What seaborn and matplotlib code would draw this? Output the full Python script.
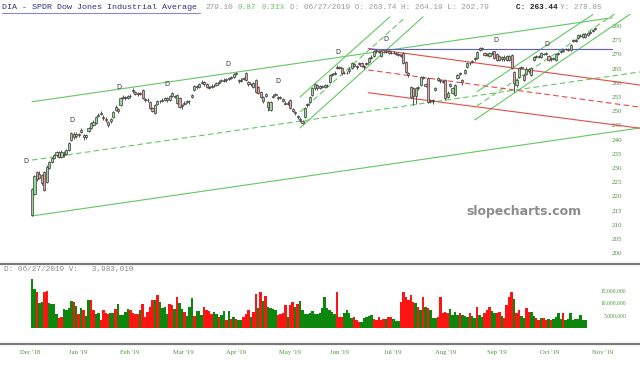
import numpy as np
import pandas as pd
import matplotlib
matplotlib.use("Agg")
import matplotlib.pyplot as plt
import seaborn as sns

# ---------------- data ----------------
opens = [213.5,221.0,228.5,226.5,227.5,228.7,225.2,229.9,232.2,233.5,
234.5,235.5,234.0,235.0,234.8,236.3,239.9,242.0,241.2,242.0,
242.8,241.5,240.8,243.0,244.0,245.2,245.8,248.4,249.0,248.0,
247.3,246.3,246.5,248.0,250.4,250.6,252.2,254.7,255.0,254.6,
255.2,257.0,256.6,256.0,256.4,257.5,254.2,253.8,253.3,251.0,
249.4,252.6,253.4,253.6,254.0,254.6,254.0,255.4,255.5,252.9,
254.6,251.8,252.4,253.2,253.6,255.0,257.5,258.8,258.6,260.0,
260.2,259.4,258.6,258.4,259.0,259.2,260.0,260.6,261.0,260.8,
261.4,261.6,262.0,263.0,261.0,260.6,261.2,263.4,260.2,259.6,
258.5,261.0,258.6,256.9,253.5,255.5,253.3,250.4,255.0,255.6,
255.0,254.6,254.2,253.0,252.6,253.9,250.6,249.8,248.4,247.4,
246.4,248.0,252.0,253.3,255.7,258.0,259.2,258.2,258.8,258.6,
259.0,260.4,262.6,263.2,265.1,265.4,265.1,263.4,263.6,264.0,
265.1,266.6,265.8,266.5,267.0,265.8,266.5,267.4,268.8,269.4,
271.0,271.2,269.5,270.9,270.8,271.0,270.6,270.4,270.5,270.0,
269.8,270.4,267.4,263.4,255.1,258.0,255.5,258.0,259.2,262.0,
259.4,261.7,253.6,253.8,257.5,261.0,260.8,260.4,261.0,255.0,
259.0,256.5,255.7,261.6,263.0,260.8,263.5,265.7,266.8,267.2,
268.2,268.7,271.5,272.2,270.4,269.8,269.5,270.3,271.0,270.0,
268.0,269.0,268.2,269.5,268.0,269.8,263.9,259.2,262.1,265.2,
262.7,263.0,264.8,262.7,268.0,269.2,269.4,269.2,270.2,270.2,
269.5,268.2,268.5,268.0,270.2,270.8,271.2,271.8,272.0,271.5,
274.8,275.0,275.7,276.6,276.2,276.0,276.8,277.6,278.2,278.8]

closes = [222.5,227.0,226.0,228.0,224.7,222.3,230.5,232.2,233.5,234.6,
235.5,234.0,235.7,234.5,236.3,238.8,242.3,241.0,242.0,241.5,
243.4,241.0,241.5,244.0,245.8,246.3,248.0,248.8,249.5,247.5,
247.0,245.0,247.2,249.8,251.6,250.0,254.5,255.1,254.5,255.3,
255.5,257.5,256.0,256.4,256.0,254.5,253.8,254.0,251.0,250.2,
252.2,253.4,253.6,254.0,254.6,253.8,255.2,256.3,255.0,255.7,
251.6,252.2,253.0,253.5,253.4,255.7,258.9,258.4,259.4,260.4,
259.5,258.6,258.3,259.0,258.8,259.8,260.4,261.0,260.6,261.4,
261.7,262.0,263.0,263.4,260.5,261.0,261.5,261.0,259.6,259.4,
260.0,256.9,256.3,255.1,255.0,256.0,251.6,253.3,255.5,256.0,
254.5,255.0,253.6,252.5,253.0,251.0,250.2,249.3,248.0,246.9,
246.0,251.0,252.5,255.1,258.2,259.6,258.0,258.8,258.6,259.2,
258.8,262.7,263.0,263.6,265.7,265.2,263.3,263.6,263.4,265.0,
266.9,266.0,265.5,267.0,266.0,265.5,267.0,268.7,269.2,271.2,
271.4,270.8,271.0,270.7,271.2,270.5,270.4,270.6,270.2,269.8,
269.5,266.9,263.9,262.6,258.6,255.5,258.0,258.5,262.1,261.8,
259.0,253.3,253.8,253.5,258.0,261.5,260.5,260.6,254.5,256.5,
259.5,258.0,259.2,262.7,263.3,260.4,264.5,266.9,267.0,267.5,
268.6,270.8,272.3,272.0,269.8,270.2,270.5,270.6,268.6,268.0,
269.5,268.2,269.2,268.0,269.5,265.1,259.8,261.0,265.1,265.5,
261.0,265.0,264.0,265.1,269.0,269.5,269.2,270.4,270.0,270.5,
268.0,268.5,268.6,270.0,270.5,271.0,271.6,272.0,271.6,273.3,
275.1,274.8,276.8,276.4,277.0,277.0,277.5,278.0,278.6,279.2]

highs = [223.0,227.5,229.0,228.8,228.0,229.0,231.0,232.6,234.0,235.0,
236.0,236.0,236.2,235.8,236.8,239.2,242.8,242.6,242.5,242.4,
243.9,241.8,242.0,244.5,246.2,246.8,248.4,249.3,250.0,248.5,
247.8,246.6,247.6,250.2,252.0,251.0,254.9,255.6,255.5,255.7,
256.0,258.0,257.0,256.8,256.8,257.8,254.6,254.5,253.6,251.4,
252.6,253.8,254.0,254.5,255.0,255.0,255.6,256.8,255.8,256.0,
255.0,252.6,253.4,254.0,254.0,256.2,259.3,259.2,259.8,260.9,
260.5,259.8,259.0,259.4,259.4,260.2,260.9,261.4,261.5,261.8,
262.1,262.4,263.4,263.8,261.4,261.5,262.0,263.8,260.6,260.0,
260.4,261.3,258.9,257.2,255.4,256.5,253.6,253.6,256.0,256.4,
255.4,255.5,254.6,253.4,253.5,254.2,251.0,250.2,248.8,247.8,
246.8,251.4,253.0,255.5,258.6,260.0,259.6,259.2,259.2,259.6,
259.4,263.0,263.4,264.0,266.1,265.8,265.4,264.0,264.0,265.4,
267.3,267.0,266.2,267.4,267.3,266.2,267.4,269.1,269.6,271.6,
271.8,271.6,271.4,271.3,271.6,271.4,271.0,271.0,270.8,270.4,
270.2,270.7,267.7,263.8,259.0,258.4,258.4,259.0,262.5,262.5,
259.8,262.0,254.2,254.2,258.5,262.0,261.2,261.0,261.3,257.0,
260.0,258.4,259.6,263.1,263.7,261.2,265.0,267.3,267.4,267.9,
269.0,271.2,272.7,272.6,270.8,270.6,270.9,271.0,271.3,270.3,
269.9,269.4,269.6,269.9,269.9,270.1,264.2,261.4,265.5,266.0,
263.1,265.4,265.2,265.5,269.4,269.9,269.8,270.8,270.6,270.9,
269.8,268.9,269.0,270.4,270.9,271.4,272.0,272.4,272.3,273.7,
275.5,275.4,277.2,277.0,277.4,277.4,277.9,278.4,279.0,279.6]

lows = [213.0,220.5,225.5,226.0,224.0,221.8,224.8,229.5,231.8,233.0,
234.0,233.5,233.6,234.0,234.4,236.0,239.5,240.2,240.5,240.8,
242.3,240.0,240.2,242.6,243.8,244.8,245.5,247.9,248.5,246.8,
246.2,244.5,246.0,247.6,250.0,249.4,251.8,254.2,254.0,254.2,
254.8,256.5,255.6,255.5,255.6,254.2,253.2,253.2,250.6,249.6,
249.0,252.2,253.0,253.2,253.6,253.2,253.6,255.0,254.5,252.5,
251.0,250.8,252.0,252.8,252.6,254.6,257.1,257.9,258.2,259.6,
259.0,258.2,257.8,258.0,258.4,258.8,259.6,260.2,260.2,260.4,
261.0,261.2,261.7,262.6,260.0,260.2,260.8,260.7,259.0,258.8,
258.0,256.5,255.9,254.6,253.0,255.0,250.0,250.0,254.5,255.2,
254.0,254.2,253.2,252.0,252.2,250.6,249.7,248.7,247.4,246.3,
245.4,247.6,251.6,253.0,255.3,257.6,257.5,257.8,258.2,258.2,
258.4,260.0,262.2,262.8,264.7,264.8,262.9,263.0,263.0,263.6,
264.8,265.6,265.0,266.1,265.6,265.0,266.1,267.0,268.4,269.0,
270.6,270.4,269.1,270.3,270.4,270.1,270.0,270.0,269.8,269.4,
269.0,266.5,263.5,262.0,254.5,252.0,252.5,257.4,258.8,261.2,
258.6,252.8,252.8,252.5,257.0,260.6,260.0,259.8,254.0,254.6,
258.6,256.0,255.3,261.2,262.6,259.2,263.0,265.3,266.4,266.8,
267.8,268.4,271.1,271.6,269.4,269.4,269.1,269.9,268.2,267.6,
267.6,267.8,267.8,267.6,267.6,264.7,256.9,258.4,261.7,264.8,
260.5,262.6,263.5,262.3,267.6,268.8,268.8,268.8,269.6,269.8,
267.6,267.8,268.0,267.6,269.8,270.4,270.8,271.4,271.2,271.1,
274.4,274.4,275.3,276.0,275.8,275.6,276.4,277.2,277.8,278.4]

# volume in millions, and up(G)/down(R) flag per bar
volume_m = [19.2,15.5,14.2,9.9,10.2,14.3,14.4,9.9,9.5,9.5,
5.6,3.8,4.2,7.5,7.1,7.8,10.6,10.2,8.5,5.6,
7.9,6.9,4.5,11.1,11.1,6.9,5.6,5.8,3.2,6.9,
5.8,5.6,5.8,5.8,7.3,9.3,4.9,4.9,6.2,7.5,
7.1,5.8,5.6,5.6,7.1,9.5,4.2,6.2,8.2,10.8,
10.8,12.8,10.2,7.9,8.2,5.6,9.3,8.9,7.3,12.2,
9.8,7.5,6.2,4.5,8.2,11.9,4.5,6.6,6.6,4.9,
8.2,6.9,6.6,5.6,6.2,5.6,4.2,4.9,6.6,2.9,
6.6,3.6,4.2,3.6,2.9,3.2,4.2,5.6,6.9,4.2,
6.2,13.5,7.9,14.2,10.6,12.4,8.2,7.9,7.5,6.9,
4.9,5.6,5.8,8.9,4.2,8.9,10.2,8.2,9.5,10.6,
7.1,5.6,5.6,5.8,6.6,5.6,5.6,6.0,
8.0,12.0,7.7,7.0,6.4,5.5,14.3,4.1,4.1,6.0,
7.0,5.7,3.7,4.1,3.0,2.4,2.4,3.7,4.4,4.6,
5.0,3.3,3.0,4.1,3.0,3.5,3.3,4.4,4.4,3.3,
2.8,2.6,10.3,14.3,12.0,11.0,13.0,10.3,9.9,8.3,
7.0,12.3,8.3,8.0,7.0,3.7,3.7,4.4,12.3,6.0,
6.4,5.7,7.3,5.0,6.4,5.0,5.7,5.0,4.6,4.4,
5.7,4.6,3.7,8.1,5.0,4.2,5.7,7.0,8.1,6.6,
6.0,5.7,6.4,4.6,3.7,9.0,12.0,14.0,11.2,5.7,
7.0,4.6,3.7,7.7,6.4,6.4,4.6,3.7,3.0,4.0,
3.7,3.0,3.3,3.0,3.3,4.2,5.7,3.3,5.7,3.0,
3.3,5.7,3.0,3.3,3.3,5.0,3.0,3.0]
volume_dir = list(
    "GGRGGRRGGG" "GRRGGGGRGR" "GRGGRRGGRR" "RRGGRGGGGG" "RRRRGRRRRR"
    "GRGGGGRRGR" "GGRGGGRGGG" "RRRRGGRGGR" "GRGRGGRRRG" "RRGRGRGGGG"
    "RRRRGRRGRG" "GGGGGGGG"
    "GGGGGGRRRG" "GGGRRRGGGG" "GRRRRRGRRG" "GGRRRRRRGR" "GRGRGGGRRR"
    "RRGGGGRGGG" "RGGRGGRRRG" "GRRGRRRRGR" "RGGRRGGRRG" "RRGRGGGGRG"
    "GGGGGGGG")

# month ticks (bar index) and labels
month_pos = [-0.8, 18.7, 39.8, 61.4, 82.9, 104.9, 125.2, 146.7, 168.3, 189.0, 210.6, 232.1]
month_labels = ["Dec '18", "Jan '19", "Feb '19", "Mar '19", "Apr '19", "May '19",
                "Jun '19", "Jul '19", "Aug '19", "Sep '19", "Oct '19", "Nov '19"]
price_ticks = list(range(200, 281, 5))
vol_ticks = [5e6, 10e6, 15e6]
vol_tick_labels = ["5,000,000", "10,000,000", "15,000,000"]

# dividend markers (bar index, price level)
div_pos = [-2.4, 16.1, 35.5, 55.0, 79.6, 99.9, 124.5, 143.8, 188.5, 209.2]
div_price = [232.5, 246.9, 258.6, 259.6, 266.6, 260.6, 270.7, 275.3, 275.1, 273.6]

# drawn trendlines: (x0, x1) bar index, (p0, p1) price
big_upper = ([0, 236], [253.3, 282.9])
big_mid = ([0, 247.2], [232.8, 263.8])
big_lower = ([0, 247.2], [213.1, 244.1])
steep1_lower = ([109, 159], [244.1, 283.2])
steep1_mid = ([109, 152], [249.7, 283.2])
steep1_upper = ([109, 145.5], [255.0, 283.2])
steep2_lower = ([180, 247.2], [246.9, 286.5])
steep2_mid = ([181, 240], [251.9, 286.0])
steep2_upper = ([181, 228], [256.9, 284.0])
red_upper = ([136.7, 247.2], [272.1, 259.2])
red_mid = ([136.7, 247.2], [264.5, 251.4])
red_lower = ([136.7, 247.2], [256.5, 244.0])
blue_level = ([137, 236], [271.9, 271.9])

# ---------------- figure ----------------
sns.set_theme(style="white")
plt.rcParams['font.family'] = ['DejaVu Sans']
W, H = 640, 366
fig = plt.figure(figsize=(W / 100, H / 100), dpi=100)
fig.patch.set_facecolor("white")


def fax(x0, y0, x1, y1):
    return fig.add_axes([x0 / W, 1 - y1 / H, (x1 - x0) / W, (y1 - y0) / H])


ax = fax(0, 14, 640, 262)
axv = fax(0, 264, 640, 344)

N = len(closes)
idx = np.arange(N)
o = np.array(opens); c = np.array(closes); hi = np.array(highs); lo = np.array(lows)
up = c >= o

GREEN_LINE = "#62c862"
RED_LINE = "#e64a4a"

# trendlines (drawn beneath candles)
def tl(seg, color, dashed=False, lw=0.8):
    d = pd.DataFrame({"x": seg[0], "y": seg[1]})
    sns.lineplot(data=d, x="x", y="y", ax=ax, color=color, lw=lw,
                 linestyle=(0, (5, 3)) if dashed else "-", zorder=1)

for seg in (big_upper, big_lower, steep1_lower, steep1_upper, steep2_lower, steep2_upper):
    tl(seg, GREEN_LINE)
for seg in (big_mid, steep1_mid, steep2_mid):
    tl(seg, GREEN_LINE, dashed=True)
tl(red_upper, RED_LINE)
tl(red_lower, RED_LINE)
tl(red_mid, RED_LINE, dashed=True)
tl(blue_level, "#5b5bd6")

# candles
ax.vlines(idx, lo, hi, color="#3c3c3c", lw=0.6, zorder=3)
body = np.maximum(np.abs(c - o), 0.2)
ax.bar(idx, body, bottom=np.minimum(o, c), width=0.88,
       color=np.where(up, "#94d694", "#e9a0a0"), edgecolor="#3c3c3c",
       linewidth=0.5, zorder=4)

for xd, yd in zip(div_pos, div_price):
    ax.text(xd, yd, "D", fontsize=4.8, color="#333333", ha="center", va="center",
            family="DejaVu Sans")

ax.set_xlim(-13.0, 247.2)
ax.set_ylim(196.9, 284.2)
ax.set_xlabel(""); ax.set_ylabel("")
for s in ax.spines.values():
    s.set_visible(False)
ax.set_xticks([])
ax.yaxis.tick_right()
ax.set_yticks(price_ticks)
ax.set_yticklabels([str(t) for t in price_ticks], family="Liberation Serif",
                   fontsize=5.0, color="#4f8f3f")
ax.tick_params(axis="y", length=0, pad=-20.5)
ax.patch.set_alpha(0)

# volume
dfv = pd.DataFrame({"i": np.arange(len(volume_m)),
                    "vol": np.array(volume_m) * 1e6,
                    "dir": volume_dir})
sns.barplot(data=dfv, x="i", y="vol", hue="dir", native_scale=True,
            palette={"G": "#0c860c", "R": "#ff1414"}, width=1.0, dodge=False,
            errorbar=None, legend=False, saturation=1, ax=axv, linewidth=0)
axv.set_xlim(-13.0, 247.2)
axv.set_ylim(-6.5e6, 25.3e6)
axv.set_xlabel(""); axv.set_ylabel("")
for k in ("left", "right"):
    axv.spines[k].set_visible(False)
for k in ("top", "bottom"):
    axv.spines[k].set_color("#7a7a7a")
    axv.spines[k].set_linewidth(1.6)
axv.yaxis.tick_right()
axv.set_yticks(vol_ticks)
axv.set_yticklabels(vol_tick_labels, family="Liberation Serif", fontsize=4.0,
                    color="#4f8f3f", ha="right")
axv.tick_params(axis="y", length=0, pad=-10.0)
axv.set_xticks(month_pos)
axv.set_xticklabels(month_labels, family="Liberation Serif", fontsize=4.8,
                    color="#4f8f3f")
axv.tick_params(axis="x", length=0, pad=4.0)

# header texts
mono = "Liberation Mono"
def ftxt(x, y, s, **kw):
    fig.text(x / W, 1 - y / H, s, family=mono, va="center", ha="left", **kw)

ftxt(2, 7.5, "DIA - SPDR Dow Jones Industrial Average", fontsize=6.0, color="#2e3470")
fig.add_artist(plt.Line2D([2 / W, 200 / W], [1 - 13 / H, 1 - 13 / H], color="#8a8ad0", lw=0.8))
ftxt(205, 7.5, "279.10", fontsize=5.6, color="#9a9a9a")
ftxt(238, 7.5, "0.87", fontsize=5.6, color="#6cc06c")
ftxt(262, 7.5, "0.31%", fontsize=5.6, color="#6cc06c")
ftxt(290, 7.5, "D: 06/27/2019 O: 263.74 H: 264.19 L: 262.79", fontsize=5.6, color="#9a9a9a")
ftxt(516, 7.5, "C: 263.44", fontsize=5.6, color="#222222", weight="bold")
ftxt(560, 7.5, "Y: 278.85", fontsize=5.6, color="#9a9a9a")
ftxt(4, 270, "D: 06/27/2019 V:   3,983,010", fontsize=5.6, color="#8a8a8a")

fig.text(524 / W, 1 - 211 / H, "slopecharts.com", fontsize=9, weight="bold",
         color="#8c8c8c", ha="center", va="center", family="DejaVu Sans")

fig.savefig("out.png", dpi=100, facecolor="white")
